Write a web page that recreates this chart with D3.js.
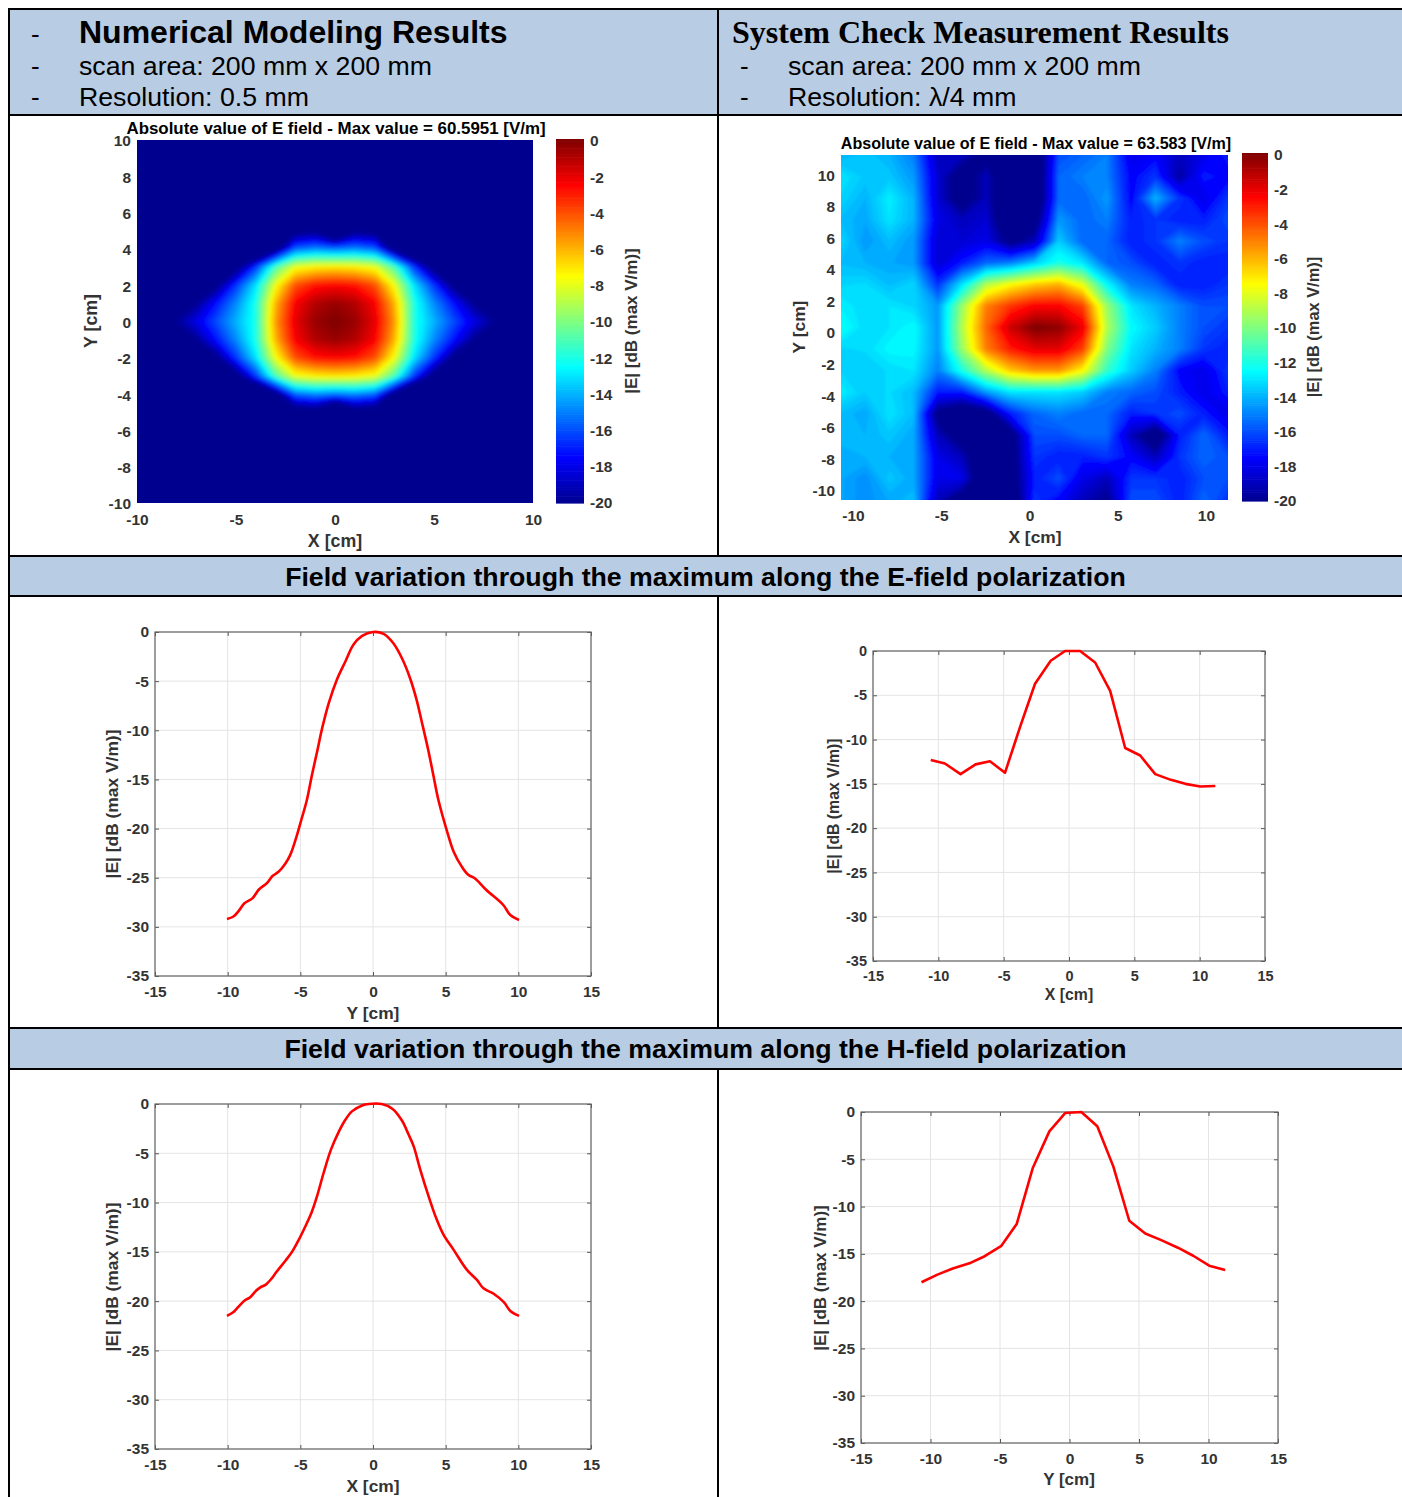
<!DOCTYPE html>
<html><head><meta charset="utf-8">
<script src="https://cdn.jsdelivr.net/npm/d3@7"></script>
<style>
html,body{margin:0;padding:0;background:#fff}
svg{display:block}
text{font-family:"Liberation Sans",Arial,sans-serif}
</style></head><body><svg id="c" width="1402" height="1497"></svg>
<script>
// ---- data ----
const jetStops=[-20,-17.5,-12.5,-7.5,-2.5,0];
const jetColors=["#00008f","#0000ff","#00ffff","#ffff00","#ff0000","#7f0000"];
const cbTicks=[0,-2,-4,-6,-8,-10,-12,-14,-16,-18,-20];
const heatTicks=[-10,-8,-6,-4,-2,0,2,4,6,8,10];
const heatXTicks=[-10,-5,0,5,10];
const lineXTicks=[-15,-10,-5,0,5,10,15];
const lineYTicks=[0,-5,-10,-15,-20,-25,-30,-35];

// modelled field, dB, rows y=+10..-10, cols x=-10..10
const modelGrid=[
[-30,-30,-30,-30,-30,-30,-30,-30,-30,-30,-30,-30,-30,-30,-30,-30,-30,-30,-30,-30,-30],
[-30,-30,-30,-30,-30,-30,-30,-30,-30,-30,-30,-30,-30,-30,-30,-30,-30,-30,-30,-30,-30],
[-30,-30,-30,-30,-30,-30,-30,-30,-30,-30,-30,-30,-30,-30,-30,-30,-30,-30,-30,-30,-30],
[-30,-30,-30,-30,-30,-30,-30,-30,-30,-30,-30,-30,-30,-30,-30,-30,-30,-30,-30,-30,-30],
[-30,-30,-30,-30,-30,-30,-30,-30,-30,-30,-30,-30,-30,-30,-30,-30,-30,-30,-30,-30,-30],
[-30,-30,-30,-30,-30,-30,-30,-27,-21,-20.5,-25,-20.5,-21,-27,-30,-30,-30,-30,-30,-30,-30],
[-30,-30,-30,-30,-30,-30,-25,-21,-15.5,-14.8,-15.2,-14.8,-15.5,-21,-25,-30,-30,-30,-30,-30,-30],
[-30,-30,-30,-30,-26,-21,-16.5,-11,-7.8,-7.2,-7,-7.2,-7.8,-11,-16.5,-21,-26,-30,-30,-30,-30],
[-30,-30,-30,-25,-20.5,-16.5,-13,-7.7,-4,-2.8,-2.5,-2.8,-4,-7.7,-13,-16.5,-20.5,-25,-30,-30,-30],
[-30,-30,-23,-20,-17.2,-14.8,-12,-6,-2.4,-1,-0.5,-1,-2.4,-6,-12,-14.8,-17.2,-20,-23,-30,-30],
[-30,-23,-19.8,-18,-16,-14,-12,-5.5,-2,-0.5,0,-0.5,-2,-5.5,-12,-14,-16,-18,-19.8,-23,-30],
[-30,-30,-23,-20,-17.2,-14.8,-12,-6,-2.4,-1,-0.5,-1,-2.4,-6,-12,-14.8,-17.2,-20,-23,-30,-30],
[-30,-30,-30,-25,-20.5,-16.5,-13,-7.7,-4,-2.8,-2.5,-2.8,-4,-7.7,-13,-16.5,-20.5,-25,-30,-30,-30],
[-30,-30,-30,-30,-26,-21,-16.5,-11,-7.8,-7.2,-7,-7.2,-7.8,-11,-16.5,-21,-26,-30,-30,-30,-30],
[-30,-30,-30,-30,-30,-30,-25,-21,-15.5,-14.8,-15.2,-14.8,-15.5,-21,-25,-30,-30,-30,-30,-30,-30],
[-30,-30,-30,-30,-30,-30,-30,-27,-22,-21.5,-26,-21.5,-22,-27,-30,-30,-30,-30,-30,-30,-30],
[-30,-30,-30,-30,-30,-30,-30,-30,-30,-30,-30,-30,-30,-30,-30,-30,-30,-30,-30,-30,-30],
[-30,-30,-30,-30,-30,-30,-30,-30,-30,-30,-30,-30,-30,-30,-30,-30,-30,-30,-30,-30,-30],
[-30,-30,-30,-30,-30,-30,-30,-30,-30,-30,-30,-30,-30,-30,-30,-30,-30,-30,-30,-30,-30],
[-30,-30,-30,-30,-30,-30,-30,-30,-30,-30,-30,-30,-30,-30,-30,-30,-30,-30,-30,-30,-30],
[-30,-30,-30,-30,-30,-30,-30,-30,-30,-30,-30,-30,-30,-30,-30,-30,-30,-30,-30,-30,-30]
];
// measured field, dB, 17 rows top to bottom, 17 cols left to right
const measGrid=[
[-14,-13.6,-14,-15,-19,-19,-20.5,-22,-22,-16,-15.5,-15,-18,-17.5,-19,-18,-17],
[-13,-13.6,-13.6,-14.5,-18.5,-21,-19,-22,-22,-15.5,-15,-15,-17.5,-16.5,-19.5,-17,-17.5],
[-13.3,-14,-12.8,-14,-18.5,-21,-19,-22,-22,-15.5,-15.5,-14.5,-17.5,-14,-16.5,-18,-16.5],
[-13.8,-14.2,-13,-14,-18,-19,-18.5,-22,-21,-14.5,-15.5,-15,-17,-16.5,-17,-17,-16],
[-13.3,-14.5,-13.8,-14.5,-18.5,-18.5,-18,-20.5,-19,-13.5,-15.5,-15.5,-17,-16.5,-15,-16,-16.5],
[-13.8,-14,-14.2,-14.5,-18.5,-17,-15.5,-15,-13.5,-12,-13,-15.5,-16,-17,-16.5,-17,-17],
[-13.3,-13.2,-13.8,-13.3,-16.5,-13,-9,-7.5,-6.5,-6,-8,-12.5,-15,-15.5,-17,-17,-16.5],
[-12.8,-13.2,-13,-13.3,-14.5,-9.5,-5,-3.5,-2.5,-2.5,-3.8,-9.5,-13,-14,-15,-16,-16],
[-12.3,-13.2,-13,-12.5,-14.5,-9,-4.5,-1.5,0,-0.3,-2.2,-9,-12.5,-13.5,-15,-16,-16.5],
[-13.3,-13.2,-12.6,-12.6,-14.5,-9.5,-5,-3,-2,-2,-3.8,-10,-13,-14,-15,-16.5,-17],
[-13.3,-13.5,-13.2,-13,-15,-12,-9,-6.5,-5.5,-5.5,-7.5,-11.5,-13.5,-15,-17.5,-18,-16.5],
[-12.8,-13.5,-13.2,-13.8,-17,-17,-14.5,-13,-13,-13,-13.5,-15,-15.5,-16,-17,-18,-17],
[-13.8,-14.2,-13,-13.8,-20.5,-22,-21,-17,-15.5,-15,-15.5,-15.5,-17,-16.5,-16,-17,-18],
[-13.8,-14,-13.6,-14.2,-19,-21,-22,-21,-16,-16,-15.5,-15.5,-19,-21.5,-17,-15.5,-17],
[-14.2,-14,-14,-14.2,-18,-19,-22,-21,-16.5,-17,-17,-16.5,-17.5,-19,-16.5,-15.5,-16],
[-14.2,-14.7,-13.6,-14.2,-18,-18,-22,-21,-17,-16,-18,-19,-16.5,-16.5,-17,-16,-16],
[-14.2,-14.7,-14.2,-13.8,-19,-21,-22,-22,-16.5,-17.5,-19,-20,-16,-16,-17,-15.5,-16.5]
];
const modelEPos=[-10.05,-9.6,-9.25,-8.85,-8.3,-7.85,-7.3,-6.9,-6.5,-6.05,-5.7,-5.3,-4.9,-4.55,-4.2,-3.85,-3.5,-3.05,-2.5,-1.9,-1.35,-0.75,0,0.73,1.4,2,2.55,3,3.35,3.8,4.15,4.5,5.1,5.55,6.1,6.55,7,7.8,8.95,9.45,10.05];
const modelEVal=[-29.2,-28.95,-28.4,-27.6,-27.1,-26.2,-25.55,-24.8,-24.4,-23.6,-22.7,-21,-18.95,-17.1,-14.55,-12.2,-9.8,-7.25,-4.9,-3,-1.3,-0.4,0,-0.2,-1.15,-2.7,-4.7,-6.9,-9.1,-12,-14.55,-17.1,-20.3,-22.35,-23.85,-24.7,-25.05,-26.25,-27.75,-28.8,-29.3];
const modelHPos=[-10.05,-9.6,-9.25,-8.85,-8.45,-8.05,-7.75,-7.4,-7,-6.65,-6,-5.55,-5.1,-4.65,-4.2,-3.85,-3.4,-2.9,-2.35,-1.9,-1.45,-0.75,-0.3,0.6,1.35,2,2.45,2.8,3.25,3.9,4.3,4.85,5.55,6.45,7.15,7.6,8.3,9,9.45,10.05];
const modelHVal=[-21.5,-21.1,-20.55,-19.95,-19.6,-18.95,-18.6,-18.35,-17.75,-17.05,-15.85,-14.95,-13.75,-12.4,-10.9,-9.35,-7,-4.65,-2.8,-1.6,-0.75,-0.15,0,0,-0.5,-1.7,-3.1,-4.3,-6.65,-9.7,-11.4,-13.25,-14.8,-16.8,-17.85,-18.7,-19.25,-20.1,-21,-21.5];
const measEPos=[-10.58,-9.5,-8.3,-7.15,-6.05,-4.9,-3.75,-2.6,-1.4,-0.3,0.85,2,3.15,4.3,5.45,6.6,7.8,8.9,10.05,11.2];
const measEVal=[-12.3,-12.7,-13.9,-12.8,-12.45,-13.75,-8.6,-3.7,-1.1,0,0,-1.3,-4.5,-10.95,-11.8,-13.9,-14.55,-15,-15.3,-15.25];
const measHPos=[-10.65,-9.5,-8.4,-7.2,-6.1,-4.9,-3.8,-2.65,-1.45,-0.3,0.85,2,3.15,4.3,5.45,6.6,7.8,8.9,10.05,11.2];
const measHVal=[-18,-17.2,-16.55,-16,-15.25,-14.15,-11.85,-5.95,-2.05,-0.1,0,-1.5,-5.75,-11.5,-12.85,-13.55,-14.35,-15.2,-16.25,-16.7];

// ---- drawing ----
const svg=d3.select("#c");
const jet=d3.scaleLinear().domain(jetStops).range(jetColors).clamp(true);
const headBg="#b8cce4", ink="#333";
const fmt=d=>String(d);

// table
svg.append("rect").attr("x",9).attr("y",9).attr("width",1393).attr("height",106).attr("fill",headBg);
svg.append("rect").attr("x",9).attr("y",557).attr("width",1393).attr("height",39).attr("fill",headBg);
svg.append("rect").attr("x",9).attr("y",1029).attr("width",1393).attr("height",40).attr("fill",headBg);
const hl=[9,115,556,596,1028,1069];
svg.selectAll("line.h").data(hl).join("line").attr("x1",8).attr("x2",1402).attr("y1",d=>d).attr("y2",d=>d).attr("stroke","#000").attr("stroke-width",2);
svg.append("line").attr("x1",9).attr("x2",9).attr("y1",8).attr("y2",1497).attr("stroke","#000").attr("stroke-width",2);
[[9,556],[596,1028],[1069,1497]].forEach(s=>svg.append("line").attr("x1",718).attr("x2",718).attr("y1",s[0]).attr("y2",s[1]).attr("stroke","#000").attr("stroke-width",2));

function T(x,y,s,size,opt={}){
  const t=svg.append("text").attr("x",x).attr("y",y).text(s).attr("font-size",size).attr("fill",opt.fill||"#000")
   .attr("font-weight",opt.bold?"bold":"normal").attr("text-anchor",opt.anchor||"start");
  if(opt.family)t.style("font-family",opt.family);
  if(opt.rot)t.attr("transform",`rotate(${opt.rot} ${x} ${y})`);
  return t;
}
const dashes=[[31,43],[31,75],[31,106],[740,75],[740,106]];
dashes.forEach(d=>T(d[0],d[1],"-",26));
T(79,43,"Numerical Modeling Results",32,{bold:true});
T(79,75,"scan area: 200 mm x 200 mm",26.7);
T(79,106,"Resolution: 0.5 mm",26.7);
T(732,43,"System Check Measurement Results",32.05,{bold:true,family:'"Liberation Serif",serif'});
T(788,75,"scan area: 200 mm x 200 mm",26.7);
T(788,106,"Resolution: λ/4 mm",26.7);
T(705.5,586,"Field variation through the maximum along the E-field polarization",26.7,{bold:true,anchor:"middle"});
T(705.5,1058,"Field variation through the maximum along the H-field polarization",26.7,{bold:true,anchor:"middle"});

function styleAxis(g,fs){
  g.select(".domain").remove();
  g.selectAll("line").attr("stroke","#555");
  g.selectAll("text").attr("font-size",fs).attr("font-weight","bold").attr("fill",ink);
}

function heat(cfg,id){
  const {grid,xd,yd,xr,yr}=cfg;
  const xs=d3.scaleLinear().domain(xd).range(xr), ys=d3.scaleLinear().domain(yd).range(yr);
  const ny=grid.length,nx=grid[0].length;
  const dx=(xd[1]-xd[0])/(nx-1), dy=(yd[1]-yd[0])/(ny-1);
  const thr=d3.range(-20,0.001,0.25);
  const cont=d3.contours().size([nx,ny]).thresholds(thr)(grid.flat());
  const path=d3.geoPath(d3.geoTransform({point(cx,cy){
    this.stream.point(xs(xd[0]+(cx-.5)*dx),ys(yd[1]-(cy-.5)*dy));
  }}));
  const defs=svg.append("defs");
  defs.append("clipPath").attr("id","clip"+id).append("rect").attr("x",xr[0]).attr("y",yr[1]).attr("width",xr[1]-xr[0]).attr("height",yr[0]-yr[1]);
  const f=defs.append("filter").attr("id","blur"+id).attr("filterUnits","userSpaceOnUse").attr("x",xr[0]-60).attr("y",yr[1]-60).attr("width",xr[1]-xr[0]+120).attr("height",yr[0]-yr[1]+120);
  f.append("feGaussianBlur").attr("stdDeviation",cfg.blur);
  const outer=svg.append("g").attr("clip-path",`url(#clip${id})`);
  const g=outer.append("g").attr("filter",`url(#blur${id})`);
  g.append("rect").attr("x",xr[0]-40).attr("y",yr[1]-40).attr("width",xr[1]-xr[0]+80).attr("height",yr[0]-yr[1]+80).attr("fill",jet(-20));
  g.selectAll("path").data(cont).join("path").attr("d",path).attr("fill",d=>jet(d.value+0.125));
  // axes
  const ax=svg.append("g").attr("transform",`translate(0,${yr[0]})`).call(d3.axisBottom(xs).tickValues(cfg.xt).tickSize(0).tickPadding(cfg.xpad).tickFormat(fmt));
  styleAxis(ax,cfg.fs);
  const ay=svg.append("g").attr("transform",`translate(${xr[0]},${cfg.yoff})`).call(d3.axisLeft(ys).tickValues(cfg.yt).tickSize(0).tickPadding(cfg.ypad).tickFormat(fmt));
  styleAxis(ay,cfg.fs);
  T(cfg.title[0],cfg.title[1],cfg.title[2],cfg.title[3],{bold:true,anchor:"middle"});
  T(cfg.xl[0],cfg.xl[1],"X [cm]",cfg.lfs,{bold:true,anchor:"middle",fill:ink});
  T(cfg.yl[0],cfg.yl[1],"Y [cm]",cfg.lfs,{bold:true,anchor:"middle",fill:ink,rot:-90});
  // colour bar
  const cb=d3.scaleLinear().domain([-20,0]).range(cfg.cby);
  const cbt=d3.scaleLinear().domain([-20,0]).range(cfg.cbt);
  const step=0.125;
  svg.append("g").selectAll("rect").data(d3.range(-20,0,step)).join("rect")
    .attr("x",cfg.cbx[0]).attr("width",cfg.cbx[1]-cfg.cbx[0]).attr("y",d=>cb(d+step)).attr("height",d=>cb(d)-cb(d+step)+0.6).attr("fill",d=>jet(d+step/2));
  const ac=svg.append("g").attr("transform",`translate(${cfg.cbx[1]},0)`).call(d3.axisRight(cbt).tickValues(cbTicks).tickSize(0).tickPadding(cfg.cbpad).tickFormat(fmt));
  styleAxis(ac,cfg.fs);
  T(cfg.cbl[0],cfg.cbl[1],"|E| [dB (max V/m)]",cfg.cbfs,{bold:true,anchor:"middle",fill:ink,rot:-90});
}
heat({grid:modelGrid,xd:[-10,10],yd:[-10,10],xr:[137,533],yr:[503,140],blur:2,xt:heatXTicks,yt:heatTicks,fs:15.5,lfs:17.8,cbfs:17,xpad:11,ypad:6,yoff:1,
  title:[336,134,"Absolute value of E field - Max value = 60.5951 [V/m]",16.9],xl:[335,547],yl:[97,321],cbx:[556,584],cby:[503,139],cbt:[503,141],cbpad:6,cbl:[637,321]},"a");
heat({grid:measGrid,xd:[-10.68,11.25],yd:[-10.57,11.27],xr:[841,1228],yr:[500,155],blur:1.3,xt:heatXTicks,yt:heatTicks,fs:15.5,lfs:17.4,cbfs:16.4,xpad:10,ypad:6,yoff:0,
  title:[1036,149,"Absolute value of E field - Max value = 63.583 [V/m]",16.1],xl:[1035,543],yl:[805,327],cbx:[1242,1268],cby:[501,153],cbt:[501,155],cbpad:6,cbl:[1319,327]},"b");

function linePlot(c){
  const xs=d3.scaleLinear().domain([-15,15]).range(c.xr), ys=d3.scaleLinear().domain([-35,0]).range(c.yr);
  const g=svg.append("g");
  const w=c.xr[1]-c.xr[0],h=c.yr[0]-c.yr[1];
  g.append("g").selectAll("line").data(lineXTicks).join("line").attr("x1",xs).attr("x2",xs).attr("y1",c.yr[0]).attr("y2",c.yr[1]).attr("stroke","#e4e4e4");
  g.append("g").selectAll("line").data(lineYTicks).join("line").attr("y1",ys).attr("y2",ys).attr("x1",c.xr[0]).attr("x2",c.xr[1]).attr("stroke","#e4e4e4");
  const ax=g.append("g").attr("transform",`translate(0,${c.yr[0]})`).call(d3.axisBottom(xs).tickValues(lineXTicks).tickSize(-4).tickPadding(10).tickFormat(fmt));
  styleAxis(ax,c.fs);
  const ay=g.append("g").attr("transform",`translate(${c.xr[0]},0)`).call(d3.axisLeft(ys).tickValues(lineYTicks).tickSize(-4).tickPadding(6).tickFormat(fmt));
  styleAxis(ay,c.fs);
  g.append("g").attr("transform",`translate(0,${c.yr[1]})`).call(d3.axisTop(xs).tickValues(lineXTicks).tickSize(-4).tickFormat("")).call(s=>styleAxis(s,c.fs));
  g.append("g").attr("transform",`translate(${c.xr[1]},0)`).call(d3.axisRight(ys).tickValues(lineYTicks).tickSize(-4).tickFormat("")).call(s=>styleAxis(s,c.fs));
  g.append("rect").attr("x",c.xr[0]).attr("y",c.yr[1]).attr("width",w).attr("height",h).attr("fill","none").attr("stroke","#666").attr("stroke-width",1.2);
  const ln=d3.line().x((d,i)=>xs(c.pos[i])).y(d=>ys(d)).curve(c.curve||d3.curveLinear);
  g.append("path").attr("d",ln(c.val)).attr("fill","none").attr("stroke","#ff0000").attr("stroke-width",2.6).attr("stroke-linejoin","round");
  T(c.xl[0],c.xl[1],c.xl[2],c.lfs,{bold:true,anchor:"middle",fill:ink});
  T(c.yl[0],c.yl[1],"|E| [dB (max V/m)]",c.lfs,{bold:true,anchor:"middle",fill:ink,rot:-90});
}
linePlot({xr:[155,591],yr:[976,632],pos:modelEPos,val:modelEVal,fs:15.5,lfs:17.4,curve:d3.curveCatmullRom,xl:[373,1019,"Y [cm]"],yl:[118,804]});
linePlot({xr:[873,1265],yr:[961,651],pos:measEPos,val:measEVal,fs:14.5,lfs:15.8,xl:[1069,1000,"X [cm]"],yl:[839,806]});
linePlot({xr:[155,591],yr:[1449,1104],pos:modelHPos,val:modelHVal,fs:15.5,lfs:17.4,curve:d3.curveCatmullRom,xl:[373,1492,"X [cm]"],yl:[118,1277]});
linePlot({xr:[861,1278],yr:[1443,1112],pos:measHPos,val:measHVal,fs:15.5,lfs:17,xl:[1069,1485,"Y [cm]"],yl:[826,1278]});
</script></body></html>
